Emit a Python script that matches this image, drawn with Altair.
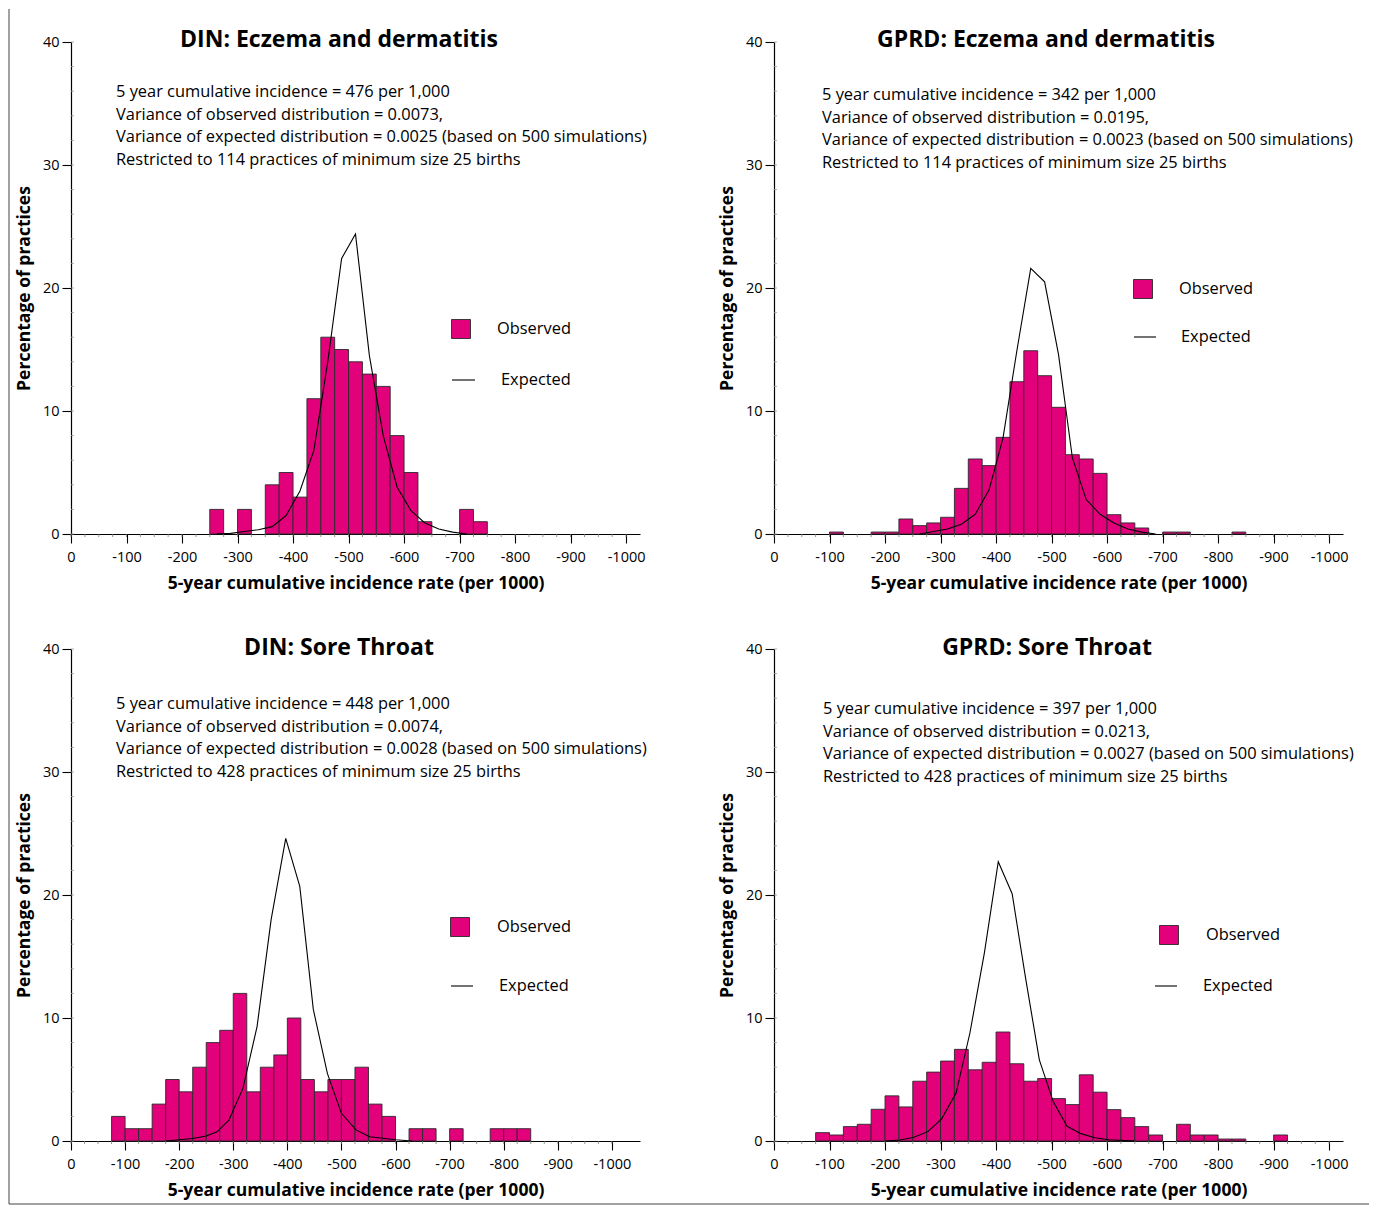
import altair as alt
import pandas as pd

PINK = "#E3007B"
FONT = "Open Sans"
BIN = 25

# ---------------- data ----------------
# Panel 1: DIN eczema
p1_title = "DIN: Eczema and dermatitis"
p1_notes = ["5 year cumulative incidence = 476 per 1,000",
            "Variance of observed distribution = 0.0073,",
            "Variance of expected distribution = 0.0025 (based on 500 simulations)",
            "Restricted to 114 practices of minimum size 25 births"]
p1_obs_start = [250, 300, 350, 375, 400, 425, 450, 475, 500, 525, 550, 575, 600, 625, 700, 725]
p1_obs_pct = [2, 2, 4, 5, 3, 11, 16, 15, 14, 13, 12, 8, 5, 1, 2, 1]
p1_exp_x = [262.5, 287.5, 312.5, 337.5, 362.5, 387.5, 412.5, 437.5, 462.5, 487.5,
            512.5, 537.5, 562.5, 587.5, 612.5, 637.5, 662.5, 687.5, 712.5]
p1_exp_y = [0, 0.05, 0.2, 0.35, 0.6, 1.5, 3.5, 6.8, 14.0, 22.4,
            24.4, 14.5, 8.0, 3.8, 1.9, 0.9, 0.4, 0.15, 0]

# Panel 2: GPRD eczema
p2_title = "GPRD: Eczema and dermatitis"
p2_notes = ["5 year cumulative incidence = 342 per 1,000",
            "Variance of observed distribution = 0.0195,",
            "Variance of expected distribution = 0.0023 (based on 500 simulations)",
            "Restricted to 114 practices of minimum size 25 births"]
p2_obs_start = [100, 175, 200, 225, 250, 275, 300, 325, 350, 375, 400, 425, 450, 475,
                500, 525, 550, 575, 600, 625, 650, 700, 725, 825]
p2_obs_pct = [0.16, 0.16, 0.16, 1.22, 0.68, 0.9, 1.36, 3.71, 6.1, 5.56, 7.86, 12.38, 14.9, 12.87,
              10.3, 6.45, 6.1, 4.93, 1.57, 0.9, 0.49, 0.16, 0.16, 0.16]
p2_exp_x = [262.5, 287.5, 312.5, 337.5, 362.5, 387.5, 412.5, 437.5, 462.5, 487.5,
            512.5, 537.5, 562.5, 587.5, 612.5, 637.5, 662.5, 687.5]
p2_exp_y = [0, 0.2, 0.4, 0.8, 1.6, 3.6, 7.8, 14.9, 21.6, 20.5,
            14.6, 6.2, 2.8, 1.6, 0.9, 0.4, 0.15, 0]

# Panel 3: DIN sore throat
p3_title = "DIN: Sore Throat"
p3_notes = ["5 year cumulative incidence = 448 per 1,000",
            "Variance of observed distribution = 0.0074,",
            "Variance of expected distribution = 0.0028 (based on 500 simulations)",
            "Restricted to 428 practices of minimum size 25 births"]
p3_obs_start = [75, 100, 125, 150, 175, 200, 225, 250, 275, 300, 325, 350, 375, 400, 425,
                450, 475, 500, 525, 550, 575, 625, 650, 700, 775, 800, 825]
p3_obs_pct = [2, 1, 1, 3, 5, 4, 6, 8, 9, 12, 4, 6, 7, 10, 5,
              4, 5, 5, 6, 3, 2, 1, 1, 1, 1, 1, 1]
p3_exp_x = [175, 200, 225, 250, 270, 292, 318, 344, 370, 397, 423, 448, 474, 500, 527, 552, 600, 630]
p3_exp_y = [0, 0.1, 0.2, 0.4, 0.75, 1.7, 4.3, 9.3, 18.0, 24.6, 20.7, 10.7, 5.5, 2.25, 0.9, 0.35, 0.1, 0]

# Panel 4: GPRD sore throat
p4_title = "GPRD: Sore Throat"
p4_notes = ["5 year cumulative incidence = 397 per 1,000",
            "Variance of observed distribution = 0.0213,",
            "Variance of expected distribution = 0.0027 (based on 500 simulations)",
            "Restricted to 428 practices of minimum size 25 births"]
p4_obs_start = [75, 100, 125, 150, 175, 200, 225, 250, 275, 300, 325, 350, 375, 400, 425,
                450, 475, 500, 525, 550, 575, 600, 625, 650, 675, 725, 750, 775, 800, 825, 900]
p4_obs_pct = [0.68, 0.49, 1.17, 1.36, 2.58, 3.67, 2.77, 4.86, 5.6, 6.5, 7.45, 5.79, 6.4, 8.86, 6.28,
              4.86, 5.08, 3.45, 2.96, 5.38, 3.97, 2.55, 1.9, 1.17, 0.49, 1.36, 0.49, 0.49, 0.16, 0.16, 0.49]
p4_exp_x = [200, 227, 252, 277, 302, 328, 353, 379, 404, 429, 453, 478, 503, 528, 553, 578, 603, 650]
p4_exp_y = [0, 0.08, 0.3, 0.76, 1.8, 3.9, 8.8, 15.3, 22.7, 20.1, 13.3, 6.6, 3.2, 1.2, 0.6, 0.27, 0.1, 0]

X_TICKS = list(range(0, 1001, 100))
X_MINOR = list(range(0, 1001, 25))
Y_TICKS = [0, 10, 20, 30, 40]
Y_MINOR = list(range(0, 41, 2))

W, H = 569, 492


def one_row():
    return alt.Data(values=[{"k": 1}])


def panel(title, notes, obs_start, obs_pct, exp_x, exp_y, xmax,
          title_x, title_y, notes_x, notes_y, leg, frame=None):
    xs = alt.Scale(domain=[0, xmax], nice=False, zero=False)
    ys = alt.Scale(domain=[0, 40], nice=False)
    obs = pd.DataFrame({"start": obs_start,
                        "end": [s + BIN for s in obs_start],
                        "pct": obs_pct})
    exp = pd.DataFrame({"x": exp_x, "y": exp_y})

    xaxis = alt.Axis(values=X_TICKS, labelExpr="datum.value == 0 ? '0' : '-' + datum.value",
                     title="5-year cumulative incidence rate (per 1000)",
                     tickSize=9, labelPadding=7, labelFlush=False, labelOverlap=False,
                     titlePadding=11, grid=False)
    yaxis = alt.Axis(values=Y_TICKS, title="Percentage of practices", tickSize=9,
                     labelPadding=3, titlePadding=9, grid=False)

    bars = alt.Chart(obs).mark_bar(color=PINK, stroke="#2a2a2a", strokeWidth=0.9,
                                   opacity=1).encode(
        x=alt.X("start:Q", scale=xs, axis=xaxis),
        x2="end:Q",
        y=alt.Y("pct:Q", scale=ys, axis=yaxis),
        y2=alt.datum(0),
    )
    line = alt.Chart(exp).mark_line(color="black", strokeWidth=1.1).encode(
        x=alt.X("x:Q", scale=xs),
        y=alt.Y("y:Q", scale=ys),
    )
    xminor = alt.Chart(pd.DataFrame({"m": X_MINOR})).mark_rule(
        color="#777", strokeWidth=0.8).encode(
        x=alt.X("m:Q", scale=xs), y=alt.value(H), y2=alt.value(H + 3))
    yminor = alt.Chart(pd.DataFrame({"m": Y_MINOR})).mark_rule(
        color="#999", strokeWidth=0.8).encode(
        y=alt.Y("m:Q", scale=ys), x=alt.value(0), x2=alt.value(3))

    ttl = alt.Chart(one_row()).mark_text(
        text=title, font=FONT, fontSize=23, fontWeight="bold", align="center",
        baseline="middle", color="black").encode(x=alt.value(title_x), y=alt.value(title_y))
    nts = alt.Chart(one_row()).mark_text(
        text=notes, font=FONT, fontSize=16.4, align="left", baseline="middle",
        lineHeight=22.7, color="black").encode(x=alt.value(notes_x), y=alt.value(notes_y))

    sq = alt.Chart(one_row()).mark_square(
        size=361, color=PINK, stroke="#2a2a2a", strokeWidth=0.9, opacity=1,
        filled=True).encode(x=alt.value(leg["sq"][0]), y=alt.value(leg["sq"][1]))
    sq_t = alt.Chart(one_row()).mark_text(
        text="Observed", font=FONT, fontSize=16.4, align="left", baseline="middle",
        color="black").encode(x=alt.value(leg["ot"][0]), y=alt.value(leg["ot"][1]))
    ln = alt.Chart(one_row()).mark_rule(color="black", strokeWidth=1.1).encode(
        x=alt.value(leg["ln"][0]), x2=alt.value(leg["ln"][1]), y=alt.value(leg["ln"][2]))
    ln_t = alt.Chart(one_row()).mark_text(
        text="Expected", font=FONT, fontSize=16.4, align="left", baseline="middle",
        color="black").encode(x=alt.value(leg["et"][0]), y=alt.value(leg["et"][1]))

    layers = [bars, line, xminor, yminor, ttl, nts, sq, sq_t, ln, ln_t]
    if frame == "left":
        layers.append(alt.Chart(one_row()).mark_rule(color="#444", strokeWidth=1).encode(
            x=alt.value(-62), y=alt.value(-33), y2=alt.value(1162)))
    if frame == "bottom":
        layers.append(alt.Chart(one_row()).mark_rule(color="#444", strokeWidth=1).encode(
            x=alt.value(-62), x2=alt.value(1298), y=alt.value(555)))
    return alt.layer(*layers).properties(width=W, height=H)


c1 = panel(p1_title, p1_notes, p1_obs_start, p1_obs_pct, p1_exp_x, p1_exp_y, 1025,
           268, -2, 45, 50,
           {"sq": (390, 287), "ot": (426, 287), "ln": (381, 404, 338), "et": (430, 338)},
           frame="left")
c2 = panel(p2_title, p2_notes, p2_obs_start, p2_obs_pct, p2_exp_x, p2_exp_y, 1025,
           272, -2, 48, 53,
           {"sq": (369, 247), "ot": (405, 247), "ln": (360, 382, 295), "et": (407, 295)})
c3 = panel(p3_title, p3_notes, p3_obs_start, p3_obs_pct, p3_exp_x, p3_exp_y, 1052,
           268, -1, 45, 55,
           {"sq": (389, 278), "ot": (426, 278), "ln": (380, 402, 337), "et": (428, 337)},
           frame="bottom")
c4 = panel(p4_title, p4_notes, p4_obs_start, p4_obs_pct, p4_exp_x, p4_exp_y, 1025,
           273, -1, 49, 60,
           {"sq": (395, 286), "ot": (432, 286), "ln": (381, 403, 337), "et": (429, 337)})

chart = alt.concat(c1, c2, c3, c4, columns=2, spacing={"row": 115, "column": 134},
                   bounds="flush").properties(
    padding={"left": 0, "top": 0, "right": 0, "bottom": 0}
).configure_view(stroke=None).configure_axis(
    domainColor="black", tickColor="black", labelColor="black", titleColor="black",
    labelFont=FONT, titleFont=FONT, labelFontSize=14.5, titleFontSize=17.5,
    titleFontWeight="bold", domainWidth=1.2, tickWidth=1.1
)

chart.save("out.html", embed_options={"renderer": "svg", "actions": False})
